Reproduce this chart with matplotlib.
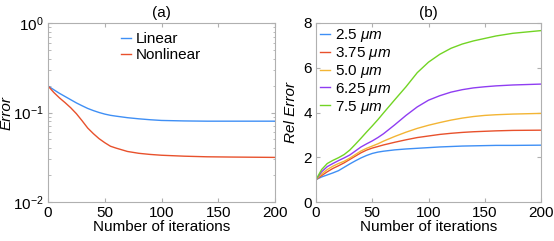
import numpy as np
import matplotlib
matplotlib.use("Agg")
import matplotlib.pyplot as plt

plt.rcParams['font.family'] = ['Liberation Sans', 'DejaVu Sans']
plt.rcParams['mathtext.fontset'] = 'custom'
plt.rcParams['mathtext.rm'] = 'Liberation Sans'
plt.rcParams['mathtext.it'] = 'Liberation Sans:italic'

# (a) error vs iterations
it_a = [0, 5, 10, 15, 20, 25, 30, 35, 40, 45, 50, 55, 60, 70, 80, 90, 100,
        120, 140, 160, 200]
err_linear = [0.198, 0.180, 0.164, 0.151, 0.139, 0.128, 0.119, 0.111, 0.105, 0.100,
              0.096, 0.093, 0.091, 0.0875, 0.085, 0.083, 0.0815, 0.0805, 0.080,
              0.080, 0.080]
err_nonlin = [0.198, 0.168, 0.146, 0.129, 0.113, 0.097, 0.081, 0.067, 0.058, 0.051,
              0.046, 0.042, 0.040, 0.0367, 0.0350, 0.0340, 0.0333, 0.0325, 0.0320,
              0.0318, 0.0315]

# (b) relative error vs iterations
it_b = [0, 5, 10, 15, 20, 25, 30, 35, 40, 45, 50, 55, 60, 70, 80, 90, 100,
        110, 120, 130, 140, 150, 160, 175, 200]
rel_25 = [1.0, 1.12, 1.21, 1.30, 1.40, 1.55, 1.70, 1.84, 1.97, 2.08, 2.17, 2.23,
          2.27, 2.33, 2.37, 2.40, 2.43, 2.46, 2.48, 2.50, 2.51, 2.52, 2.53, 2.53, 2.54]
rel_375 = [1.0, 1.18, 1.35, 1.50, 1.62, 1.75, 1.90, 2.05, 2.20, 2.32, 2.41, 2.48,
           2.55, 2.67, 2.78, 2.88, 2.95, 3.02, 3.07, 3.11, 3.14, 3.16, 3.18, 3.20, 3.21]
rel_50 = [1.0, 1.25, 1.45, 1.60, 1.72, 1.82, 1.96, 2.12, 2.28, 2.40, 2.50, 2.60,
          2.72, 2.93, 3.12, 3.29, 3.43, 3.55, 3.66, 3.75, 3.82, 3.87, 3.90, 3.93, 3.96]
rel_625 = [1.0, 1.35, 1.58, 1.72, 1.85, 1.97, 2.10, 2.28, 2.46, 2.60, 2.73, 2.88,
           3.05, 3.45, 3.87, 4.25, 4.55, 4.75, 4.91, 5.02, 5.10, 5.15, 5.19, 5.23, 5.27]
rel_75 = [1.0, 1.45, 1.72, 1.86, 1.98, 2.12, 2.32, 2.58, 2.85, 3.13, 3.40, 3.68,
          3.98, 4.57, 5.15, 5.78, 6.25, 6.60, 6.87, 7.06, 7.20, 7.31, 7.42, 7.54, 7.66]
labels_b = ["2.5 $\\mu m$", "3.75 $\\mu m$", "5.0 $\\mu m$", "6.25 $\\mu m$", "7.5 $\\mu m$"]
series_b = [rel_25, rel_375, rel_50, rel_625, rel_75]

c_blue = '#3f8ff5'
c_red = '#e8512c'
colors_b = [c_blue, c_red, '#f3b534', '#8f3df2', '#72d424']

fig = plt.figure(figsize=(5.54, 2.41), dpi=100)
ax1 = fig.add_axes([48/554, 39/241, 227/554, 179/241])
ax2 = fig.add_axes([316/554, 39/241, 225/554, 179/241])

fs = 11
for ax in (ax1, ax2):
    for s in ax.spines.values():
        s.set_color('#b0b0b0')
        s.set_linewidth(0.8)
    ax.tick_params(which='both', direction='in', top=True, right=True,
                   color='#b0b0b0', labelsize=fs, labelcolor='black', pad=3)
    ax.tick_params(which='major', length=3)
    ax.tick_params(which='minor', length=1.8)
    ax.set_xlim(0, 200)
    ax.set_xticks([0, 50, 100, 150, 200])
    ax.set_xlabel("Number of iterations", fontsize=fs, labelpad=0)

ax1.semilogy(it_a, err_linear, color=c_blue, lw=1, label="Linear")
ax1.semilogy(it_a, err_nonlin, color=c_red, lw=1, label="Nonlinear")
ax1.set_ylim(1e-2, 1e0)
ax1.set_ylabel("Error", fontsize=fs, style='italic')
ax1.yaxis.set_label_coords(-0.15, 0.5)
ax1.set_title("(a)", fontsize=fs, pad=4)
ax1.legend(loc='upper left', bbox_to_anchor=(0.32, 0.947), frameon=False,
           fontsize=fs, handlelength=0.65, handletextpad=0.35, labelspacing=0.1,
           borderaxespad=0.0, borderpad=0.0)

for vals, lab, c in zip(series_b, labels_b, colors_b):
    ax2.plot(it_b, vals, color=c, lw=1, label=lab)
ax2.set_ylim(0, 8)
ax2.set_yticks([0, 2, 4, 6, 8])
ax2.set_ylabel("Rel Error", fontsize=fs, style='italic')
ax2.yaxis.set_label_coords(-0.08, 0.5)
ax2.set_title("(b)", fontsize=fs, pad=4)
ax2.legend(loc='upper left', frameon=False, fontsize=fs, handlelength=0.65,
           handletextpad=0.35, labelspacing=0.05, borderaxespad=0.0, borderpad=0.0,
           bbox_to_anchor=(0.018, 0.975))

fig.savefig("out.png", dpi=100)
